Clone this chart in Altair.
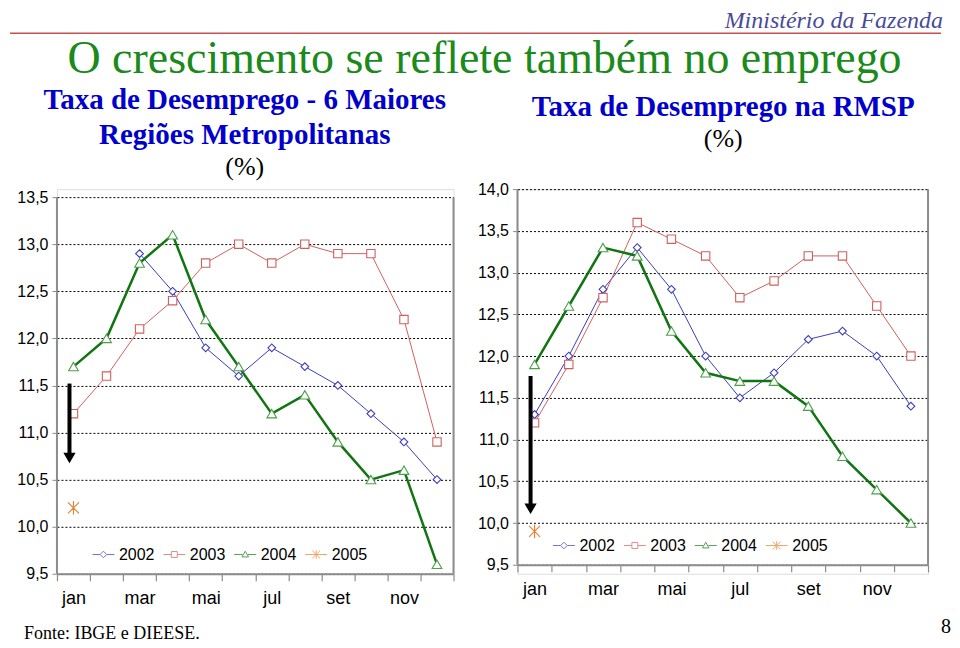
import altair as alt
import pandas as pd

# ---------------- data ----------------
months = ["jan", "fev", "mar", "abr", "mai", "jun", "jul", "ago", "set", "out", "nov", "dez"]
shown_months = ["jan", "mar", "mai", "jul", "set", "nov"]
series_names = ["2002", "2003", "2004", "2005"]

# Taxa de Desemprego - 6 Maiores Regioes Metropolitanas (IBGE)
rm_2002 = [None, None, 12.9, 12.5, 11.9, 11.6, 11.9, 11.7, 11.5, 11.2, 10.9, 10.5]
rm_2003 = [11.2, 11.6, 12.1, 12.4, 12.8, 13.0, 12.8, 13.0, 12.9, 12.9, 12.2, 10.9]
rm_2004 = [11.7, 12.0, 12.8, 13.1, 12.2, 11.7, 11.2, 11.4, 10.9, 10.5, 10.6, 9.6]
rm_2005 = [10.2]

# Taxa de Desemprego na RMSP (DIEESE)
sp_2002 = [11.3, 12.0, 12.8, 13.3, 12.8, 12.0, 11.5, 11.8, 12.2, 12.3, 12.0, 11.4]
sp_2003 = [11.2, 11.9, 12.7, 13.6, 13.4, 13.2, 12.7, 12.9, 13.2, 13.2, 12.6, 12.0]
sp_2004 = [11.9, 12.6, 13.3, 13.2, 12.3, 11.8, 11.7, 11.7, 11.4, 10.8, 10.4, 10.0]
sp_2005 = [9.9]

left_ticks = [9.5, 10.0, 10.5, 11.0, 11.5, 12.0, 12.5, 13.0, 13.5]
right_ticks = [9.5, 10.0, 10.5, 11.0, 11.5, 12.0, 12.5, 13.0, 13.5, 14.0]

# arrow annotations (shaft top, shaft bottom, head)
left_arrow = [11.52, 10.78, 10.73]
right_arrow = [11.76, 10.22, 10.17]

# ---------------- style ----------------
COL = {"2002": "#3C3CBE", "2003": "#D0605E", "2004": "#117511", "2005": "#E8822E"}
MARK_COL = {"2002": "#3C3CBE", "2003": "#D0605E", "2004": "#4E9E4E", "2005": "#E8822E"}
LINE_W = {"2002": 1, "2003": 1, "2004": 2.5}
ASTER = "M0,-1L0,1M-0.8,-0.8L0.8,0.8M-0.8,0.8L0.8,-0.8"
SHAPE = {"2002": "diamond", "2003": "square", "2004": "triangle-up", "2005": ASTER}
SIZE = {"2002": 60, "2003": 70, "2004": 95, "2005": 190}
LEG_PATHS = [
    "M-1,0L-0.3,0M0.3,0L1,0M0,-0.3L0.3,0L0,0.3L-0.3,0Z",
    "M-1,0L-0.27,0M0.27,0L1,0M-0.27,-0.27L0.27,-0.27L0.27,0.27L-0.27,0.27Z",
    "M-1,0L-0.25,0M0.25,0L1,0M0,-0.3L0.3,0.22L-0.3,0.22Z",
    "M-1,0L1,0M0,-0.4L0,0.4M-0.35,-0.35L0.35,0.35M-0.35,0.35L0.35,-0.35",
]
LEG_COLS = [COL[s] for s in series_names]
LEG_W = [1, 1, 2.2, 1.6]

SANS = "Liberation Sans"
SERIF = "Liberation Serif"
GRAY = "#8C8C8C"
one = pd.DataFrame({"k": [0]})


def long_df(seriesvals):
    rows = []
    for s, vals in zip(series_names, seriesvals):
        for m, v in zip(months, vals):
            if v is not None:
                rows.append({"month": m, "series": s, "value": v})
    return pd.DataFrame(rows)


def text(txt, x, y, size, color="black", font=SERIF, weight="normal", style="normal", align="center"):
    return alt.Chart(one).mark_text(
        text=txt, font=font, fontSize=size, color=color, fontWeight=weight,
        fontStyle=style, align=align, baseline="alphabetic"
    ).encode(x=alt.value(x), y=alt.value(y))


def panel(seriesvals, ticks, ydom, width, height, xoffset, arrow, legend_y, extras):
    df = long_df(seriesvals)
    fmt = "replace(format(datum.value, '.1f'), '.', ',')"
    yaxis = alt.Axis(values=ticks, labelExpr=fmt, grid=True, gridDash=[2, 2], gridColor="black",
                     gridWidth=1, gridOpacity=1, domain=False, tickColor=GRAY, tickSize=5,
                     labelFont=SANS, labelFontSize=16, labelColor="black", labelPadding=4,
                     title=None)
    lab = "indexof(" + str(shown_months) + ", datum.value) >= 0 ? datum.value : ''"
    xaxis = alt.Axis(labelExpr=lab, tickBand="extent", tickSize=7, tickColor=GRAY, tickWidth=1.2,
                     domainColor=GRAY, domainWidth=2, labelFont=SANS, labelFontSize=18,
                     labelColor="black", labelPadding=9, labelAngle=0, labelOverlap=False,
                     grid=False, title=None, offset=xoffset)
    xs = alt.Scale(type="band", domain=months, paddingInner=0, paddingOuter=0)
    ys = alt.Scale(domain=ydom, nice=False, zero=False)

    def X():
        return alt.X("month:N", scale=xs, axis=xaxis)

    def Y(f):
        return alt.Y(f + ":Q", scale=ys, axis=yaxis)

    layers = []
    # frame (left axis line and right border)
    frame = pd.DataFrame({"top": [ticks[-1]], "bot": [ticks[0]]})
    for xv in (0, width):
        layers.append(alt.Chart(frame).mark_rule(color=GRAY, strokeWidth=2).encode(
            x=alt.value(xv), y=Y("top"), y2="bot"))
    for s in series_names[:3]:
        layers.append(alt.Chart(df).transform_filter(alt.datum.series == s).mark_line(
            color=COL[s], strokeWidth=LINE_W[s]).encode(x=X(), y=Y("value")))
    for s in series_names:
        layers.append(alt.Chart(df).transform_filter(alt.datum.series == s).mark_point(
            shape=SHAPE[s], size=SIZE[s], filled=False, fill="white", fillOpacity=1,
            stroke=MARK_COL[s], strokeWidth=1.1, opacity=1).encode(x=X(), y=Y("value")))
    # arrow
    adf = pd.DataFrame({"month": ["jan"], "top": [arrow[0]], "bot": [arrow[1]], "head": [arrow[2]]})
    layers.append(alt.Chart(adf).mark_rule(color="black", strokeWidth=4, xOffset=-4).encode(
        x=X(), y=Y("top"), y2="bot"))
    layers.append(alt.Chart(adf).mark_point(shape="triangle-down", size=150, filled=True,
                                            color="black", opacity=1, xOffset=-4).encode(
        x=X(), y=Y("head")))
    # legend
    leg = alt.Legend(title=None, orient="none", legendX=35, legendY=legend_y, direction="horizontal",
                     symbolSize=484, labelFont=SANS, labelFontSize=16, labelColor="black",
                     labelOffset=4, columnPadding=6, padding=0)
    ldf = pd.DataFrame({"series": series_names})
    layers.append(alt.Chart(ldf).transform_filter("false").mark_point(filled=False).encode(
        stroke=alt.Stroke("series:N", scale=alt.Scale(domain=series_names, range=LEG_COLS), legend=leg),
        shape=alt.Shape("series:N", scale=alt.Scale(domain=series_names, range=LEG_PATHS), legend=leg),
        strokeWidth=alt.StrokeWidth("series:N", scale=alt.Scale(domain=series_names, range=LEG_W), legend=leg),
    ))
    layers.extend(extras)
    return alt.layer(*layers).properties(width=width, height=height)


LW, RW, H = 397, 411, 385

left_extras = [
    alt.Chart(one).mark_rule(color="#C8504F", strokeWidth=1.6).encode(
        x=alt.value(-47), x2=alt.value(885), y=alt.value(-156)),
    text("Ministério da Fazenda", 887, -161, 24, color="#4A4A9A", style="italic", align="right"),
    text("O crescimento se reflete também no emprego", 428, -116, 46, color="#1B8A1B"),
    text("Taxa de Desemprego - 6 Maiores", 188, -80, 29, color="#0000CC", weight="bold"),
    text("Regiões Metropolitanas", 188, -45, 29, color="#0000CC", weight="bold"),
    text("(%)", 188, -14, 26),
    text("Fonte: IBGE e DIEESE.", -33, 450, 18, align="left"),
]
right_extras = [
    text("Taxa de Desemprego na RMSP", 206, -73, 29, color="#0000CC", weight="bold"),
    text("(%)", 206, -42, 26),
    text("8", 434, 444, 20, align="right"),
]

left = panel([rm_2002, rm_2003, rm_2004, rm_2005], left_ticks, [9.5, 13.5 + 8 / 94.25],
             LW, H, 0, left_arrow, 354, left_extras)
right = panel([sp_2002, sp_2003, sp_2004, sp_2005], right_ticks, [9.5 - 9 / 83.56, 14.0],
              RW, H, -9, right_arrow, 345, right_extras)

chart = alt.hconcat(left, right, spacing=64, bounds="flush").properties(
    padding={"left": 0, "top": 0, "right": 0, "bottom": 0}
).resolve_scale(
    stroke="independent", shape="independent", strokeWidth="independent"
).resolve_legend(
    stroke="independent", shape="independent", strokeWidth="independent"
).configure_view(stroke=None).configure(background="white")

chart.save("out.html", embed_options={"renderer": "svg", "actions": False})
